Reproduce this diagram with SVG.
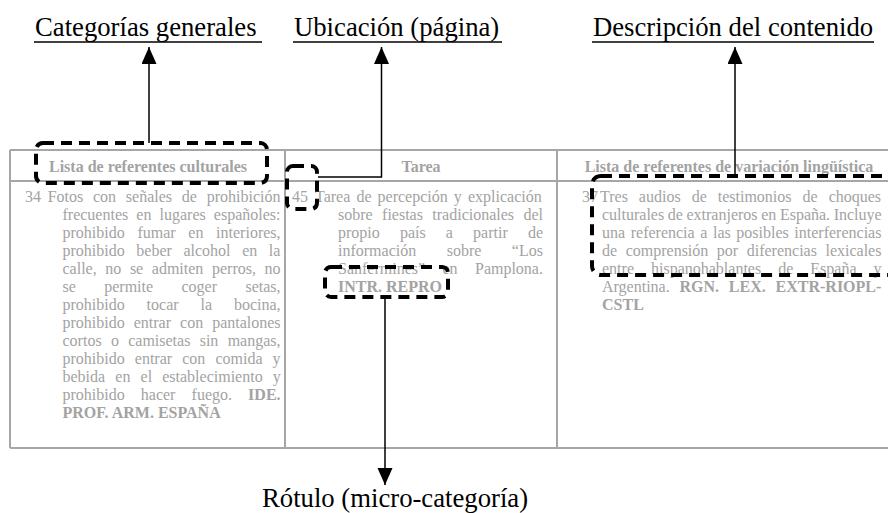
<svg xmlns="http://www.w3.org/2000/svg" width="888" height="513" viewBox="0 0 888 513">
  <style>
    .label { font-family: "Liberation Serif", "Times New Roman", serif; font-size: 26.7px; fill: #000; }
    .uline { stroke: #000; stroke-width: 1.5; }
    .grid { stroke: #a6a6a6; stroke-width: 2; fill: none; }
    .head { font-family: "Liberation Serif", "Times New Roman", serif; font-size: 16px; font-weight: bold; fill: #a3a3a3; text-anchor: middle; }
    .body { font-family: "Liberation Serif", "Times New Roman", serif; font-size: 16px; fill: #a3a3a3; }
    .b { font-weight: bold; }
    .dash { fill: none; stroke: #000; stroke-width: 4; stroke-dasharray: 11 7; }
    .conn { fill: none; stroke: #000; stroke-width: 1.5; }
  </style>
  <defs>
    <marker id="arrow" markerUnits="userSpaceOnUse" markerWidth="18" markerHeight="16" refX="17" refY="7.5" orient="auto">
      <path d="M0,0 L17,7.5 L0,15 z" fill="#000"/>
    </marker>
  </defs>

  <rect width="888" height="513" fill="#fff"/>

  <!-- table grid -->
  <g id="table">
    <line class="grid" x1="10" y1="150" x2="888" y2="150"/>
    <line class="grid" x1="10" y1="181" x2="888" y2="181"/>
    <line class="grid" x1="10" y1="448" x2="888" y2="448"/>
    <line class="grid" x1="10" y1="150" x2="10" y2="448"/>
    <line class="grid" x1="285" y1="150" x2="285" y2="448"/>
    <line class="grid" x1="557" y1="150" x2="557" y2="448"/>

    <text class="head" x="148" y="172">Lista de referentes culturales</text>
    <text class="head" x="421" y="172">Tarea</text>
    <text class="head" x="729" y="172">Lista de referentes de variación lingüística</text>

    <!-- column 1 -->
    <text class="body" x="25" y="202">34</text>
    <text class="body" x="47.7" y="202" word-spacing="5.75">Fotos con señales de prohibición</text>
    <text class="body" x="62.5" y="220" word-spacing="4.1">frecuentes en lugares españoles:</text>
    <text class="body" x="62.5" y="238" word-spacing="8.7">prohibido fumar en interiores,</text>
    <text class="body" x="62.5" y="256" word-spacing="7.6">prohibido beber alcohol en la</text>
    <text class="body" x="62.5" y="274" word-spacing="4.6">calle, no se admiten perros, no</text>
    <text class="body" x="62.5" y="292" word-spacing="24.4">se permite coger setas,</text>
    <text class="body" x="62.5" y="310" word-spacing="17.9">prohibido tocar la bocina,</text>
    <text class="body" x="62.5" y="328" word-spacing="5">prohibido entrar con pantalones</text>
    <text class="body" x="62.5" y="346" word-spacing="5.3">cortos o camisetas sin mangas,</text>
    <text class="body" x="62.5" y="364" word-spacing="6.1">prohibido entrar con comida y</text>
    <text class="body" x="62.5" y="382" word-spacing="6.15">bebida en el establecimiento y</text>
    <text class="body" x="62.5" y="400" word-spacing="12.1">prohibido hacer fuego. <tspan class="b">IDE.</tspan></text>
    <text class="body b" x="62.5" y="418">PROF. ARM. ESPAÑA</text>

    <!-- column 2 -->
    <text class="body" x="292" y="202">45</text>
    <text class="body" x="315" y="202" word-spacing="2.1">Tarea de percepción y explicación</text>
    <text class="body" x="338" y="220" word-spacing="5.4">sobre fiestas tradicionales del</text>
    <text class="body" x="338" y="238" word-spacing="16.15">propio país a partir de</text>
    <text class="body" x="338" y="256" word-spacing="26.5">información sobre “Los</text>
    <text class="body" x="338" y="274" word-spacing="13.4">Sanfermines” en Pamplona.</text>
    <text class="body b" x="338" y="292">INTR. REPRO</text>

    <!-- column 3 -->
    <text class="body" x="582" y="202">37</text>
    <text class="body" x="600" y="202" word-spacing="7">Tres audios de testimonios de choques</text>
    <text class="body" x="602" y="220" word-spacing="-0.4">culturales de extranjeros en España. Incluye</text>
    <text class="body" x="602" y="238" word-spacing="1.6">una referencia a las posibles interferencias</text>
    <text class="body" x="602" y="256" word-spacing="4.55">de comprensión por diferencias lexicales</text>
    <text class="body" x="602" y="274" word-spacing="13">entre hispanohablantes de España y</text>
    <text class="body" x="602" y="292" word-spacing="5.8">Argentina. <tspan class="b">RGN. LEX. EXTR-RIOPL-</tspan></text>
    <text class="body b" x="602" y="310">CSTL</text>
  </g>

  <!-- top labels -->
  <g id="label-categorias">
    <text class="label" x="35" y="36">Categorías generales</text>
    <line class="uline" x1="34" y1="42" x2="262" y2="42"/>
  </g>
  <g id="label-ubicacion">
    <text class="label" x="294" y="36">Ubicación (página)</text>
    <line class="uline" x1="293" y1="42" x2="502" y2="42"/>
  </g>
  <g id="label-descripcion">
    <text class="label" x="593" y="36">Descripción del contenido</text>
    <line class="uline" x1="592" y1="42" x2="874" y2="42"/>
  </g>
  <g id="label-rotulo">
    <text class="label" x="262" y="507">Rótulo (micro-categoría)</text>
  </g>

  <!-- dashed highlight frames -->
  <g id="frame-categoria"><rect class="dash" x="36" y="143" width="231" height="40" rx="7"/></g>
  <g id="frame-pagina"><rect class="dash" x="287" y="166" width="30" height="43" rx="6"/></g>
  <g id="frame-descripcion"><rect class="dash" x="592" y="176" width="310" height="99" rx="9"/></g>
  <g id="frame-rotulo"><rect class="dash" x="325" y="267" width="123" height="30" rx="6"/></g>

  <!-- connectors -->
  <g id="connectors">
    <path class="conn" d="M149,143 V47" marker-end="url(#arrow)"/>
    <path class="conn" d="M318,177 H381.5 V47" marker-end="url(#arrow)"/>
    <path class="conn" d="M735,176 V47" marker-end="url(#arrow)"/>
    <path class="conn" d="M385,297 V485" marker-end="url(#arrow)"/>
  </g>
</svg>
